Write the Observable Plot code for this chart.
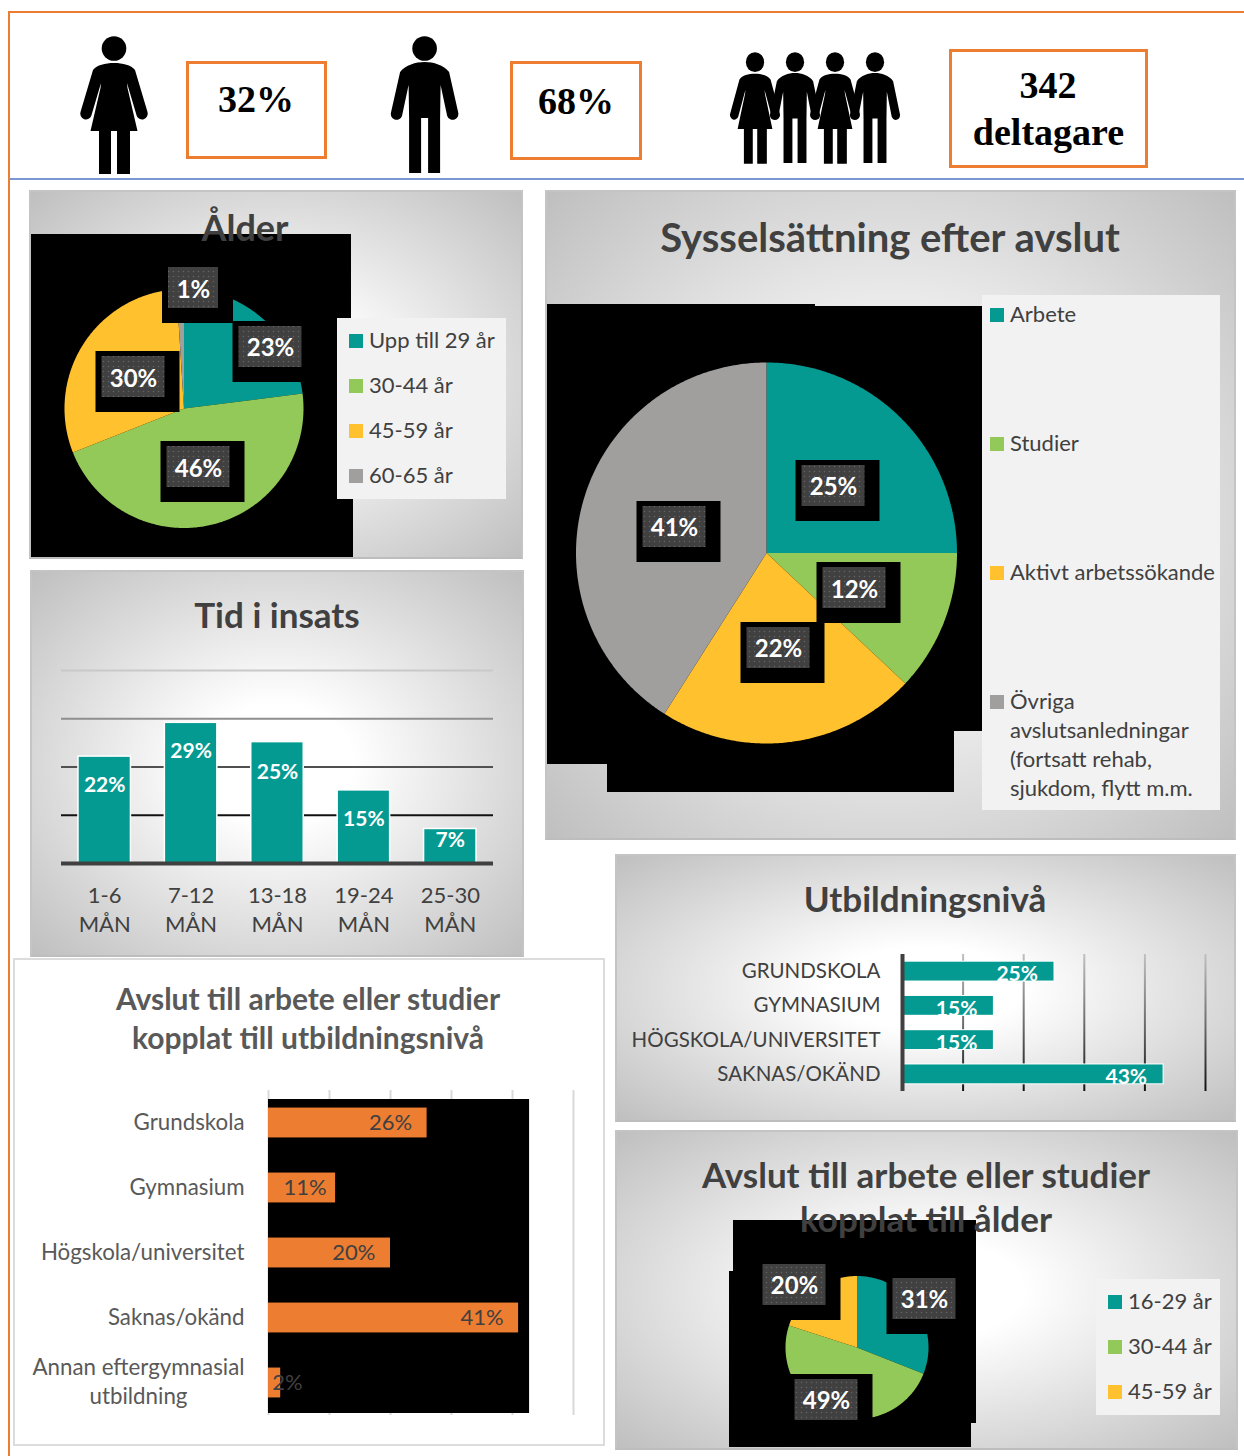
<!DOCTYPE html>
<html lang="sv">
<head>
<meta charset="utf-8">
<script src="https://cdn.jsdelivr.net/npm/d3@7"></script>
<script src="https://cdn.jsdelivr.net/npm/@observablehq/plot@0.6"></script>
<style>
html,body{margin:0;padding:0;background:#fff}
#page{position:relative;width:1244px;height:1456px;overflow:hidden;font-family:Lato,sans-serif;color:#404040}
.abs{position:absolute}
.panel{position:absolute;box-sizing:border-box;border:2px solid #c4c4c4;border-bottom-color:#bdbdbd;background:radial-gradient(ellipse farthest-corner at center,#fff 22%,#bfbfbf 100%)}
.title{position:absolute;transform:translate(-50%,-50%);white-space:nowrap;font-weight:700;color:#404040;line-height:1}
.kpi{position:absolute;box-sizing:border-box;border:3px solid #ed7d31;background:#fff}
.kpitext{position:absolute;transform:translate(-50%,-50%);font-family:"Liberation Serif",serif;font-weight:700;font-size:38px;color:#000;line-height:1;white-space:nowrap}
.legend{position:absolute;background:#f2f2f2}
.legtext{position:absolute;font-size:22px;color:#404040;line-height:29px;white-space:nowrap;transform:translateY(calc(-50% - 1.5px))}
.swatch{position:absolute;width:14px;height:14px;transform:translateY(-50%)}
.plot{position:absolute}
.plot svg{display:block;background:transparent}
</style>
</head>
<body>
<svg width="0" height="0" style="position:absolute">
  <defs>
    <pattern id="dots" patternUnits="userSpaceOnUse" width="5" height="5">
      <rect width="5" height="5" fill="#404040"></rect>
      <circle cx="2.5" cy="2.5" r="0.75" fill="#646464"></circle>
    </pattern>
    <linearGradient id="gridTid" gradientUnits="userSpaceOnUse" x1="0" x2="0" y1="10" y2="155">
      <stop offset="0" stop-color="#c9c9c9"></stop>
      <stop offset="0.34" stop-color="#8d8d8d"></stop>
      <stop offset="0.67" stop-color="#505050"></stop>
      <stop offset="1" stop-color="#111"></stop>
    </linearGradient>
    <linearGradient id="gridUtb" gradientUnits="userSpaceOnUse" x1="0" x2="0" y1="9" y2="146">
      <stop offset="0" stop-color="#c0c0c0"></stop>
      <stop offset="0.55" stop-color="#666"></stop>
      <stop offset="1" stop-color="#111"></stop>
    </linearGradient>
  </defs>
</svg>
<div id="page"></div>
<script>
// ---------- data ----------
const alderNames = ["Upp till 29 år", "30-44 år", "45-59 år", "60-65 år"];
const alderValues = [23, 46, 30, 1];
const sysNames = ["Arbete", "Studier", "Aktivt arbetssökande", "Övriga\navslutsanledningar\n(fortsatt rehab,\nsjukdom, flytt m.m."];
const sysValues = [25, 12, 22, 41];
const avslutAlderNames = ["16-29 år", "30-44 år", "45-59 år"];
const avslutAlderValues = [31, 49, 20];
const tidCategories = ["1-6\nMÅN", "7-12\nMÅN", "13-18\nMÅN", "19-24\nMÅN", "25-30\nMÅN"];
const tidValues = [22, 29, 25, 15, 7];
const utbCategories = ["GRUNDSKOLA", "GYMNASIUM", "HÖGSKOLA/UNIVERSITET", "SAKNAS/OKÄND"];
const utbValues = [25, 15, 15, 43];
const avslutUtbCategories = ["Grundskola", "Gymnasium", "Högskola/universitet", "Saknas/okänd", "Annan eftergymnasial\nutbildning"];
const avslutUtbValues = [26, 11, 20, 41, 2];

// ---------- styles and layout, kept apart from the data ----------
const C = {teal:"#049a91", green:"#92c958", yellow:"#ffc12e", grey:"#a19f9d", orange:"#ed7d31", text:"#404040"};
const pieColors = [C.teal, C.green, C.yellow, C.grey];
const FONT = "Lato, sans-serif";
const page = document.getElementById("page");

function el(cls, css, html){
  const d = document.createElement("div");
  d.className = cls;
  Object.assign(d.style, css);
  if (html != null) d.innerHTML = html;
  page.appendChild(d);
  return d;
}
const px = v => v + "px";
function box(cls, x1, y1, x2, y2){ return el(cls,{left:px(x1),top:px(y1),width:px(x2-x1),height:px(y2-y1)}); }
function title(text, x, y, size, color){ return {text,x,y,size,color}; }
function putTitle(t){ el("title",{left:px(t.x),top:px(t.y),fontSize:px(t.size),color:t.color||"#404040"},t.text); }
function mount(plot, left, top){
  const w = el("plot",{left:px(left),top:px(top)});
  w.appendChild(plot);
}

// ---------- page frame ----------
el("abs",{left:"7.5px",top:"10.5px",width:"1237px",height:"2.5px",background:C.orange});
el("abs",{left:"7.5px",top:"10.5px",width:"2.5px",height:"1446px",background:C.orange});
el("abs",{left:"10px",top:"178px",width:"1234px",height:"2px",background:"#7a97d2"});

// ---------- people ----------
const womanPath = "M0,27C-9,27-17,29-21,34L-33.5,76A5.6,5.6 0 0 0-22.6,79.5L-13,47L-13.5,52L-23.5,95L-15,95L-15,138L-3,138L-3,95L3,95L3,138L16,138L16,95L23.5,95L13.5,52L13,47L22.6,79.5A5.6,5.6 0 0 0 33.5,76L21,34C17,29 9,27 0,27Z";
const manPath = "M0,26C-9,26-19,29-24.5,36L-33.5,76A5.6,5.6 0 0 0-22.6,80L-16,49L-15.5,82L-15.5,137L-3.5,137L-3.5,82L3.5,82L3.5,137L15.5,137L15.5,82L16,49L22.6,80A5.6,5.6 0 0 0 33.5,76L24.5,36C19,29 9,26 0,26Z";
const person = (path, x, y, sx, sy) => `<g transform="translate(${x},${y}) scale(${sx},${sy})"><ellipse cy="12.5" rx="12.3" ry="12.3" fill="#000"></ellipse><path d="${path}" fill="#000"></path></g>`;
el("abs",{left:0,top:0},`<svg width="1244" height="180" style="display:block">${
  person(womanPath,114,36,1,1)+person(manPath,424.6,36,1,1)+
  person(womanPath,755,52,0.74,0.81)+person(manPath,795,52,0.74,0.81)+person(womanPath,835,52,0.74,0.81)+person(manPath,875,52,0.74,0.81)
}</svg>`);
box("kpi",186,61,327,159);
box("kpi",510,61,642,160);
box("kpi",949,49,1148,168);
for (const [t,x,y] of [["32%",256,99],["68%",576,101],["342",1048,84.5],["deltagare",1048.5,132]])
  el("kpitext",{left:px(x),top:px(y)},t);

// ---------- panels ----------
box("panel",29,190,523,559);
box("panel",545,190,1236,840);
box("panel",30,570,524,957);
box("panel",615,854,1236,1122);
box("panel",615,1130,1238,1450);
const wp = box("abs",13,958,605,1446);
Object.assign(wp.style,{boxSizing:"border-box",border:"2px solid #dcdcdc",background:"#fff"});

// ---------- pie helper ----------
function wedges(names, values, cx, cy, r){
  const total = d3.sum(values), pts = [];
  let acc = 0;
  names.forEach((name,i)=>{
    const a0 = acc/total*2*Math.PI, a1 = (acc+values[i])/total*2*Math.PI;
    acc += values[i];
    pts.push({name,x:cx,y:cy});
    const n = Math.max(2,Math.ceil((a1-a0)/0.01));
    for (let k=0;k<=n;k++){
      const a = a0+(a1-a0)*k/n;
      pts.push({name,x:cx+r*Math.sin(a),y:cy-r*Math.cos(a)});
    }
  });
  return pts;
}
function piePlot({left,top,width,height,cx,cy,r,names,values,patches,labels}){
  const L = labels.map((l,i)=>({...l,text:values[i]+"%",hw:l.hw||31.5,ty:l.ty||0}));
  const shift = p => ({x1:p[0]-left,y1:p[1]-top,x2:p[2]-left,y2:p[3]-top});
  const plot = Plot.plot({
    width,height,margin:0,
    style:{background:"transparent",fontFamily:FONT},
    x:{domain:[0,width],range:[0,width],axis:null},
    y:{domain:[0,height],range:[0,height],axis:null},
    color:{domain:names,range:pieColors},
    marks:[
      Plot.rect(patches.map(shift),{x1:"x1",x2:"x2",y1:"y1",y2:"y2",fill:"#000"}),
      Plot.line(wedges(names,values,cx-left,cy-top,r),{x:"x",y:"y",z:"name",fill:"name",stroke:"none"}),
      Plot.rect(L,{x1:d=>d.x-left-d.hw-6,x2:d=>d.x-left+d.hw+15,y1:d=>d.y-top-26,y2:d=>d.y-top+35,fill:"#000"}),
      Plot.rect(L,{x1:d=>d.x-left-d.hw,x2:d=>d.x-left+d.hw,y1:d=>d.y-top-21,y2:d=>d.y-top+20,fill:"url(#dots)"}),
      Plot.text(L,{x:d=>d.x-left,y:d=>d.y-top+d.ty,dy:0.5,text:"text",fill:"#fff",fontSize:24,fontWeight:700,fontFamily:FONT})
    ]
  });
  mount(plot,left,top);
}
function legend(x1,y1,x2,y2,swX,textX,names,rows,lineH){
  box("legend",x1,y1,x2,y2);
  names.forEach((n,i)=>{
    const lines = n.split("\n");
    el("swatch",{left:px(swX),top:px(rows[i]),background:pieColors[i]});
    lines.forEach((ln,j)=>el("legtext",{left:px(textX),top:px(rows[i]+j*lineH)},ln));
  });
}

// ---------- Ålder ----------
piePlot({left:31,top:234,width:322,height:323,cx:183.5,cy:408,r:119.5,names:alderNames,values:alderValues,
  patches:[[31,234,351,500],[31,320,353,557]],
  labels:[{x:270,y:347},{x:198,y:467,ty:1},{x:133,y:377,ty:1},{x:193,y:288,hw:25,ty:1}]});
legend(337,318,506,499,349,369,alderNames,[341,386,431,476],29);
putTitle(title("Ålder",245,227,36));

// ---------- Sysselsättning ----------
piePlot({left:547,top:304,width:435,height:488,cx:766,cy:552.5,r:190.5,names:sysNames.map(s=>s),values:sysValues,
  patches:[[547,304,815,764],[547,306,982,731],[607,306,954,792]],
  labels:[{x:833,y:486},{x:854,y:588,ty:1},{x:778,y:648},{x:674,y:527}]});
legend(982,295,1220,810,990,1010,sysNames,[315,444,573,702],29);
putTitle(title("Sysselsättning efter avslut",890,237,40));

// ---------- Tid i insats ----------
const tidLabelDy = [28,28,29,28,11];
mount(Plot.plot({
  width:494,height:290,
  marginLeft:31,marginRight:31,marginTop:10,marginBottom:87,
  style:{background:"transparent",fontFamily:FONT},
  x:{domain:tidCategories,paddingInner:0.41,paddingOuter:0.205,round:false,label:null},
  y:{domain:[0,40],axis:null},
  marks:[
    Plot.ruleY([10,20,30,40],{stroke:"url(#gridTid)",strokeWidth:2}),
    Plot.barY(tidCategories.map((c,i)=>({c,v:tidValues[i]})),{x:"c",y:"v",fill:C.teal,stroke:"#fff",strokeWidth:3,paintOrder:"stroke"}),
    Plot.ruleY([0],{stroke:"#404040",strokeWidth:4}),
    ...tidCategories.map((c,i)=>Plot.text([{c,v:tidValues[i]}],{x:"c",y:"v",text:d=>d.v+"%",dy:tidLabelDy[i],fill:"#fff",fontSize:21,fontWeight:700,fontFamily:FONT})),
    Plot.axisX({tickSize:0,tickPadding:19,fontSize:22,lineHeight:1.32,fill:"#404040",label:null,fontFamily:FONT})
  ]
}),30,660);
putTitle(title("Tid i insats",277,613.5,35));

// ---------- Utbildningsnivå ----------
mount(Plot.plot({
  width:620,height:160,
  marginLeft:287,marginRight:30,marginTop:9,marginBottom:14,
  style:{background:"transparent",fontFamily:FONT},
  x:{domain:[0,50],axis:null},
  y:{domain:utbCategories,paddingInner:0.45,paddingOuter:0.225,round:false,label:null},
  marks:[
    Plot.ruleX([10,20,30,40,50],{stroke:"url(#gridUtb)",strokeWidth:2}),
    Plot.barX(utbCategories.map((c,i)=>({c,v:utbValues[i]})),{y:"c",x:"v",fill:C.teal,stroke:"#fff",strokeWidth:2,paintOrder:"stroke"}),
    Plot.ruleX([0],{stroke:"#404040",strokeWidth:4}),
    Plot.text(utbCategories.map((c,i)=>({c,v:utbValues[i]})),{y:"c",x:"v",text:d=>d.v+"%",dx:-16,dy:3,textAnchor:"end",fill:"#fff",fontSize:21,fontWeight:700,fontFamily:FONT}),
    Plot.axisY({tickSize:0,tickPadding:22,fontSize:20.5,fill:"#404040",label:null,fontFamily:FONT})
  ]
}),615,945);
putTitle(title("Utbildningsnivå",925,897.5,35));

// ---------- Avslut till arbete eller studier, utbildningsnivå ----------
const orangeDx = [-15,-9,-15,-15,22];
const orangeData = avslutUtbCategories.map((c,i)=>({c,v:avslutUtbValues[i],dx:orangeDx[i]}));
const blackBehind = (index,{x},values,{height,marginBottom,marginTop}) => {
  const r = document.createElementNS("http://www.w3.org/2000/svg","rect");
  r.setAttribute("x",x(0)); r.setAttribute("width",x(42.8)-x(0));
  r.setAttribute("y",marginTop+9); r.setAttribute("height",height-marginTop-marginBottom-11);
  r.setAttribute("fill","#000");
  return r;
};
mount(Plot.plot({
  width:590,height:335,
  marginLeft:255,marginRight:30,marginTop:5,marginBottom:5,
  style:{background:"transparent",fontFamily:FONT},
  x:{domain:[0,50],axis:null},
  y:{domain:avslutUtbCategories,paddingInner:0.54,paddingOuter:0.27,round:false,label:null,axis:null},
  marks:[
    Plot.ruleX([0,10,20,30,40,50],{stroke:"#d9d9d9",strokeWidth:2}),
    blackBehind,
    Plot.barX(orangeData,{y:"c",x:"v",fill:C.orange}),
    ...orangeData.map(d=>Plot.text([d],{y:"c",x:"v",text:e=>e.v+"%",dx:d.dx,textAnchor:"end",fill:"#404040",fontSize:22,fontFamily:FONT})),
    Plot.text(avslutUtbCategories.slice(0,4),{y:d=>d,frameAnchor:"left",dx:-24,text:d=>d,textAnchor:"end",fill:"#595959",fontSize:22.3,fontFamily:FONT}),
    Plot.text(avslutUtbCategories.slice(4),{y:d=>d,frameAnchor:"left",dx:-130,dy:-3,text:d=>d,textAnchor:"middle",lineHeight:1.3,fill:"#595959",fontSize:22.3,fontFamily:FONT})
  ]
}),13,1085);
putTitle(title("Avslut till arbete eller studier",308,998,30,"#595959"));
putTitle(title("kopplat till utbildningsnivå",308,1037,30,"#595959"));

// ---------- Avslut till arbete eller studier, ålder ----------
piePlot({left:729,top:1220,width:247,height:227,cx:856.5,cy:1347,r:71.5,names:avslutAlderNames,values:avslutAlderValues,
  patches:[[733,1220,976,1423],[729,1271,971,1447]],
  labels:[{x:924,y:1299},{x:826,y:1400},{x:794,y:1285}]});
legend(1096,1279,1220,1415,1108,1128,avslutAlderNames,[1302,1347,1392],29);
putTitle(title("Avslut till arbete eller studier",926,1174,35));
putTitle(title("kopplat till ålder",926,1218,35));
</script>
</body>
</html>
